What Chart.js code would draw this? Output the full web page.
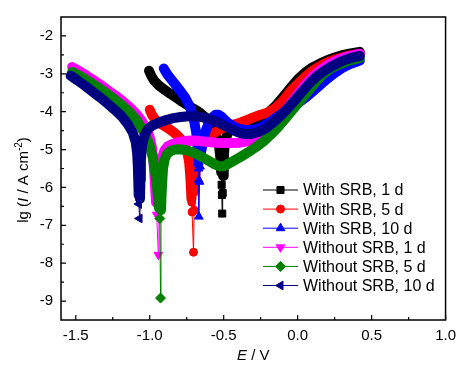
<!DOCTYPE html>
<html><head><meta charset="utf-8">
<script src="https://cdn.jsdelivr.net/npm/chart.js@4/dist/chart.umd.min.js"></script>
<style>html,body{margin:0;padding:0;background:#fff;}canvas{display:block;}</style>
</head><body>
<canvas id="c" width="463" height="369"></canvas>
<script>
// ---- data (E / V, lg(I / A cm^-2)) ----
const seriesNames = ['With SRB, 1 d','With SRB, 5 d','With SRB, 10 d','Without SRB, 1 d','Without SRB, 5 d','Without SRB, 10 d'];

const withSRB1d_E  = [-1.005,-0.99,-0.97,-0.94,-0.90,-0.86,-0.82,-0.78,-0.74,-0.70,-0.66,-0.62,-0.59,-0.565,-0.545,-0.53,-0.522,-0.517,-0.514,-0.512,-0.510,-0.507,-0.504,-0.50,-0.495,-0.485,-0.47,-0.45,-0.42,-0.38,-0.34,-0.30,-0.25,-0.20,-0.15,-0.10,-0.05,0.00,0.05,0.10,0.15,0.20,0.25,0.30,0.35,0.42];
const withSRB1d_lg = [-2.92,-3.05,-3.18,-3.30,-3.42,-3.53,-3.63,-3.74,-3.84,-3.93,-4.03,-4.16,-4.30,-4.48,-4.70,-4.95,-5.25,-5.60,-5.93,-6.20,-6.69,-6.15,-5.70,-5.30,-4.95,-4.70,-4.55,-4.46,-4.40,-4.34,-4.29,-4.24,-4.16,-4.03,-3.85,-3.62,-3.38,-3.15,-2.97,-2.83,-2.73,-2.64,-2.57,-2.51,-2.47,-2.42];

const withSRB5d_E  = [-1.00,-0.985,-0.965,-0.94,-0.91,-0.88,-0.85,-0.82,-0.79,-0.765,-0.745,-0.733,-0.726,-0.721,-0.718,-0.716,-0.714,-0.704,-0.700,-0.696,-0.690,-0.680,-0.665,-0.645,-0.62,-0.59,-0.56,-0.53,-0.50,-0.46,-0.42,-0.38,-0.34,-0.30,-0.25,-0.20,-0.15,-0.10,-0.05,0.00,0.05,0.10,0.15,0.20,0.25,0.30,0.35,0.42];
const withSRB5d_lg = [-3.95,-4.08,-4.20,-4.29,-4.36,-4.43,-4.51,-4.60,-4.72,-4.88,-5.08,-5.35,-5.70,-6.05,-6.30,-6.39,-6.65,-7.71,-6.60,-6.10,-5.60,-5.20,-4.95,-4.80,-4.70,-4.62,-4.55,-4.48,-4.42,-4.37,-4.33,-4.28,-4.22,-4.15,-4.08,-4.02,-3.90,-3.72,-3.47,-3.27,-3.08,-2.92,-2.80,-2.70,-2.63,-2.57,-2.52,-2.48];

const withSRB10d_E  = [-0.905,-0.88,-0.85,-0.82,-0.79,-0.76,-0.735,-0.715,-0.698,-0.686,-0.678,-0.673,-0.671,-0.670,-0.669,-0.668,-0.664,-0.660,-0.655,-0.64,-0.625,-0.605,-0.58,-0.555,-0.535,-0.515,-0.495,-0.47,-0.43,-0.39,-0.34,-0.29,-0.24,-0.19,-0.14,-0.09,-0.04,0.00,0.05,0.10,0.15,0.20,0.25,0.30,0.35,0.42];
const withSRB10d_lg = [-2.86,-3.02,-3.17,-3.32,-3.47,-3.63,-3.82,-4.02,-4.28,-4.55,-4.85,-5.15,-5.38,-5.50,-5.80,-6.77,-5.85,-5.45,-5.10,-4.80,-4.55,-4.33,-4.16,-4.08,-4.08,-4.13,-4.21,-4.30,-4.40,-4.46,-4.49,-4.47,-4.40,-4.28,-4.14,-4.00,-3.88,-3.78,-3.64,-3.47,-3.30,-3.13,-2.98,-2.85,-2.75,-2.65];

const withoutSRB1d_E  = [-1.525,-1.48,-1.43,-1.38,-1.33,-1.28,-1.23,-1.18,-1.13,-1.09,-1.055,-1.025,-1.00,-0.985,-0.975,-0.968,-0.962,-0.957,-0.953,-0.942,-0.938,-0.934,-0.929,-0.923,-0.913,-0.90,-0.88,-0.85,-0.80,-0.75,-0.70,-0.65,-0.60,-0.55,-0.50,-0.45,-0.40,-0.35,-0.30,-0.25,-0.20,-0.15,-0.10,-0.05,0.00,0.05,0.10,0.15,0.20,0.25,0.30,0.35,0.42];
const withoutSRB1d_lg = [-2.82,-2.92,-3.04,-3.17,-3.30,-3.44,-3.58,-3.73,-3.90,-4.06,-4.24,-4.45,-4.68,-4.95,-5.30,-5.70,-6.10,-6.40,-6.72,-7.78,-6.55,-6.15,-5.75,-5.42,-5.18,-5.02,-4.92,-4.86,-4.80,-4.77,-4.76,-4.78,-4.80,-4.82,-4.83,-4.83,-4.82,-4.79,-4.73,-4.62,-4.47,-4.28,-4.05,-3.80,-3.55,-3.30,-3.08,-2.91,-2.78,-2.67,-2.59,-2.53,-2.47];

const withoutSRB5d_E  = [-1.525,-1.48,-1.43,-1.38,-1.33,-1.28,-1.23,-1.18,-1.13,-1.09,-1.055,-1.025,-1.00,-0.98,-0.965,-0.952,-0.943,-0.937,-0.932,-0.927,-0.924,-0.920,-0.915,-0.910,-0.90,-0.885,-0.86,-0.83,-0.80,-0.76,-0.72,-0.68,-0.64,-0.60,-0.56,-0.53,-0.50,-0.47,-0.43,-0.38,-0.33,-0.28,-0.23,-0.18,-0.13,-0.08,-0.03,0.02,0.07,0.12,0.17,0.22,0.27,0.32,0.37,0.42];
const withoutSRB5d_lg = [-2.95,-3.04,-3.16,-3.28,-3.41,-3.55,-3.70,-3.86,-4.04,-4.22,-4.43,-4.66,-4.90,-5.20,-5.55,-5.95,-6.30,-6.55,-6.82,-8.92,-6.60,-6.20,-5.80,-5.50,-5.27,-5.12,-5.04,-5.00,-4.99,-5.01,-5.06,-5.13,-5.21,-5.30,-5.39,-5.44,-5.44,-5.38,-5.29,-5.18,-5.06,-4.93,-4.78,-4.60,-4.40,-4.17,-3.93,-3.70,-3.46,-3.22,-3.02,-2.87,-2.77,-2.69,-2.63,-2.58];

const withoutSRB10d_E  = [-1.535,-1.49,-1.44,-1.39,-1.34,-1.29,-1.24,-1.19,-1.15,-1.115,-1.095,-1.085,-1.080,-1.077,-1.075,-1.073,-1.069,-1.066,-1.063,-1.060,-1.055,-1.045,-1.03,-1.01,-0.98,-0.94,-0.89,-0.84,-0.79,-0.74,-0.69,-0.64,-0.59,-0.54,-0.49,-0.44,-0.40,-0.36,-0.32,-0.27,-0.22,-0.17,-0.12,-0.07,-0.02,0.03,0.08,0.13,0.18,0.23,0.28,0.33,0.38,0.42];
const withoutSRB10d_lg = [-3.05,-3.17,-3.31,-3.46,-3.61,-3.77,-3.94,-4.12,-4.32,-4.55,-4.80,-5.10,-5.50,-5.90,-6.20,-6.44,-6.82,-6.30,-5.80,-5.30,-4.98,-4.75,-4.58,-4.45,-4.36,-4.29,-4.22,-4.17,-4.14,-4.12,-4.12,-4.15,-4.20,-4.28,-4.38,-4.48,-4.55,-4.59,-4.59,-4.54,-4.45,-4.30,-4.12,-3.92,-3.70,-3.47,-3.25,-3.06,-2.92,-2.80,-2.70,-2.62,-2.56,-2.53];

const xTickValues = [-1.5,-1.0,-0.5,0.0,0.5,1.0];
const yTickValues = [-9,-8,-7,-6,-5,-4,-3,-2];

// ---- styles ----
const FONT = "'Liberation Sans', Arial, Helvetica, sans-serif";
const styles = [
  {color:'#000000', pointStyle:'rect',     rotation:0,   radius:5,   tail:-5.85},
  {color:'#ff0000', pointStyle:'circle',   rotation:0,   radius:4,   tail:-6.35},
  {color:'#0000ff', pointStyle:'triangle', rotation:0,   radius:5,   tail:-5.42},
  {color:'#ff00ff', pointStyle:'triangle', rotation:180, radius:5,   tail:-6.50},
  {color:'#008000', pointStyle:'rectRot',  rotation:0,   radius:5,   tail:-6.70},
  {color:'#000080', pointStyle:'triangle', rotation:-90, radius:5,   tail:-6.35}
];
const seriesE  = [withSRB1d_E, withSRB5d_E, withSRB10d_E, withoutSRB1d_E, withoutSRB5d_E, withoutSRB10d_E];
const seriesLg = [withSRB1d_lg, withSRB5d_lg, withSRB10d_lg, withoutSRB1d_lg, withoutSRB5d_lg, withoutSRB10d_lg];
const BAND = 10;

const datasets = seriesNames.map((name, i) => {
  const st = styles[i];
  return {
    label: name,
    data: seriesE[i].map((e, k) => ({x: e, y: seriesLg[i][k]})),
    showLine: true,
    order: 6 - i,
    borderColor: st.color,
    backgroundColor: st.color,
    borderWidth: BAND,
    borderCapStyle: 'round',
    borderJoinStyle: 'round',
    tension: 0,
    pointStyle: st.pointStyle,
    pointRotation: st.rotation,
    pointBackgroundColor: st.color,
    pointBorderColor: st.color,
    pointBorderWidth: 1,
    pointRadius: ctx => (ctx.raw && ctx.raw.y < st.tail) ? st.radius : 0,
    pointHoverRadius: 0,
    segment: {
      borderWidth: ctx => (ctx.p0.parsed.y < st.tail || ctx.p1.parsed.y < st.tail) ? 1 : BAND
    }
  };
});

function drawMarker(ctx, st, x, y) {
  if (Chart.helpers && Chart.helpers.drawPoint) {
    ctx.fillStyle = st.color; ctx.strokeStyle = st.color;
    Chart.helpers.drawPoint(ctx, {pointStyle: st.pointStyle, rotation: st.rotation, radius: st.radius, borderWidth: 1}, x, y);
  }
}

const decor = {
  id: 'decor',
  beforeDraw(chart) {
    const c = chart.ctx; c.save(); c.fillStyle = '#fff'; c.fillRect(0, 0, chart.width, chart.height); c.restore();
  },
  afterDraw(chart) {
    const {ctx, chartArea: a} = chart;
    const xs = chart.scales.x, ys = chart.scales.y;
    ctx.save();
    // frame
    ctx.strokeStyle = '#000'; ctx.lineWidth = 1.5;
    ctx.strokeRect(a.left, a.top, a.right - a.left, a.bottom - a.top);
    // inward ticks
    ctx.lineWidth = 1.2;
    ctx.beginPath();
    xs.ticks.forEach(t => {
      const px = xs.getPixelForValue(t.value);
      ctx.moveTo(px, a.bottom); ctx.lineTo(px, a.bottom - 5);
      const m = t.value + 0.25;
      if (m < xs.max - 1e-9) { const pm = xs.getPixelForValue(m); ctx.moveTo(pm, a.bottom); ctx.lineTo(pm, a.bottom - 3); }
    });
    ys.ticks.forEach(t => {
      const py = ys.getPixelForValue(t.value);
      ctx.moveTo(a.left, py); ctx.lineTo(a.left + 5, py);
      const m = t.value - 0.5;
      if (m > ys.min + 1e-9) { const pm = ys.getPixelForValue(m); ctx.moveTo(a.left, pm); ctx.lineTo(a.left + 3, pm); }
    });
    ctx.stroke();

    // x title: E / V
    ctx.fillStyle = '#000';
    ctx.textBaseline = 'alphabetic';
    const cx = (a.left + a.right) / 2;
    const fI = 'italic 15px ' + FONT, fN = '15px ' + FONT;
    ctx.font = fI; const wE = ctx.measureText('E').width;
    ctx.font = fN; const wR = ctx.measureText(' / V').width;
    let x0 = cx - (wE + wR) / 2;
    ctx.textAlign = 'left';
    ctx.font = fI; ctx.fillText('E', x0, 360);
    ctx.font = fN; ctx.fillText(' / V', x0 + wE, 360);

    // y title: lg (I / A cm^-2)
    const parts = [
      {t:'lg (', f:fN, dy:0},
      {t:'I', f:fI, dy:0},
      {t:' / A cm', f:fN, dy:0},
      {t:'-2', f:'10px ' + FONT, dy:-6},
      {t:')', f:fN, dy:0}
    ];
    let total = 0;
    parts.forEach(p => { ctx.font = p.f; p.w = ctx.measureText(p.t).width; total += p.w; });
    ctx.save();
    ctx.translate(28, 180);
    ctx.rotate(-Math.PI / 2);
    let px = -total / 2;
    parts.forEach(p => { ctx.font = p.f; ctx.fillText(p.t, px, p.dy); px += p.w; });
    ctx.restore();

    // legend
    const lx0 = 263, lx1 = 298, mx = 280.5, tx = 303, ly0 = 190, dy = 19.1;
    ctx.font = '16px ' + FONT;
    ctx.textBaseline = 'middle';
    seriesNames.forEach((name, i) => {
      const st = styles[i];
      const y = ly0 + i * dy;
      ctx.strokeStyle = st.color; ctx.lineWidth = 1;
      ctx.beginPath(); ctx.moveTo(lx0, y); ctx.lineTo(lx1, y); ctx.stroke();
      drawMarker(ctx, st, mx, y);
      ctx.fillStyle = '#000';
      ctx.fillText(name, tx, y + 1);
    });
    ctx.restore();
  }
};

new Chart(document.getElementById('c'), {
  type: 'scatter',
  data: {datasets},
  options: {
    responsive: false,
    animation: false,
    devicePixelRatio: 1,
    layout: {padding: {top: 7, right: 16, left: 0, bottom: 0}},
    plugins: {legend: {display: false}, tooltip: {enabled: false}},
    scales: {
      x: {
        type: 'linear', min: -1.6, max: 1.0,
        grid: {display: false, drawTicks: false},
        border: {display: false},
        afterBuildTicks: s => { s.ticks = xTickValues.map(v => ({value: v})); },
        ticks: {padding: 7, color: '#000', font: {family: FONT, size: 15}, maxRotation: 0, autoSkip: false,
                callback: v => (Math.abs(v) < 1e-9 ? 0 : v).toFixed(1)},
        afterFit: s => { s.height = 49; }
      },
      y: {
        type: 'linear', min: -9.5, max: -1.5,
        grid: {display: false, drawTicks: false},
        border: {display: false},
        afterBuildTicks: s => { s.ticks = yTickValues.map(v => ({value: v})); },
        ticks: {padding: 8, color: '#000', font: {family: FONT, size: 15}, autoSkip: false,
                callback: v => String(v)},
        afterFit: s => { s.width = 61; }
      }
    }
  },
  plugins: [decor]
});
</script>
</body></html>
